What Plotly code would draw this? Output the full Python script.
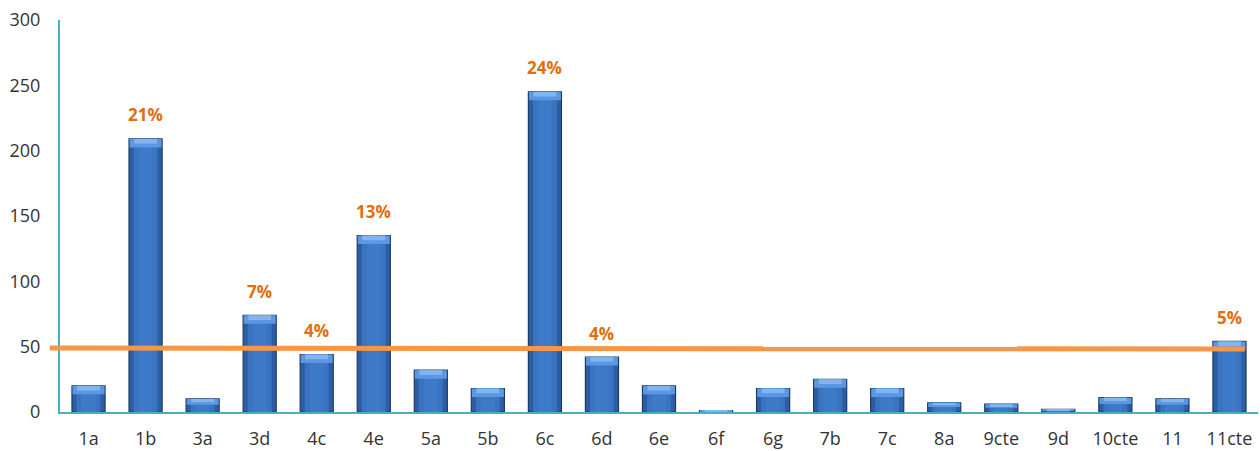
import plotly.graph_objects as go

# Count per category
categories = ["1a", "1b", "3a", "3d", "4c", "4e", "5a", "5b", "6c", "6d", "6e",
              "6f", "6g", "7b", "7c", "8a", "9cte", "9d", "10cte", "11", "11cte"]
values = [20, 209, 10, 74, 44, 135, 32, 18, 245, 42, 20,
          1, 18, 25, 18, 7, 6, 2, 11, 10, 54]

# Reference line level at its left and right ends
reference_line = [48.9, 48.2]

y_ticks = [0, 50, 100, 150, 200, 250, 300]

total = sum(values)
shares = [round(v / total * 100) for v in values]
x_pos = list(range(len(categories)))

AXIS_COLOR = "#4BACC6"
FONT = "Open Sans"

fig = go.Figure()

# Dark outer body of each bar
fig.add_trace(go.Bar(
    x=x_pos, y=values, width=0.58,
    marker=dict(color="#2D5DA2", line=dict(color="#1C3A66", width=1.2)),
    hoverinfo="skip", showlegend=False,
))
# Lighter core to suggest a rounded surface
fig.add_trace(go.Bar(
    x=x_pos, y=values, width=0.42,
    marker=dict(color="#3A73C0", line=dict(width=0)),
    hoverinfo="skip", showlegend=False,
))
fig.add_trace(go.Bar(
    x=x_pos, y=values, width=0.24,
    marker=dict(color="#3F7AC8", line=dict(width=0)),
    hoverinfo="skip", showlegend=False,
))
# Bevelled top cap
cap = [min(6.5, v * 0.45) for v in values]
fig.add_trace(go.Bar(
    x=x_pos, y=cap, base=[v - c for v, c in zip(values, cap)], width=0.56,
    marker=dict(color="#5B97E2", line=dict(width=0)),
    hoverinfo="skip", showlegend=False,
))
fig.add_trace(go.Bar(
    x=x_pos, y=[c * 0.55 for c in cap], base=[v - c * 0.55 for v, c in zip(values, cap)],
    width=0.40,
    marker=dict(color="#7FB6F0", line=dict(width=0)),
    hoverinfo="skip", showlegend=False,
))

# Share labels above the larger bars
for x, v, s in zip(x_pos, values, shares):
    if s >= 4:
        fig.add_annotation(
            x=x, y=v, text=f"{s}%", showarrow=False, yshift=24,
            font=dict(family=FONT, size=17, color="#E46C0A", weight="bold"),
        )

# Horizontal reference line across the chart
fig.add_shape(
    type="line", xref="paper", yref="y",
    x0=-0.0085, x1=0.989, y0=reference_line[0], y1=reference_line[1],
    line=dict(color="#F79646", width=5), layer="above",
)

fig.update_layout(
    width=1260, height=451,
    margin=dict(l=60, r=2, t=20, b=39),
    paper_bgcolor="white", plot_bgcolor="white",
    barmode="overlay",
    font=dict(family=FONT, size=18, color="#333333"),
    xaxis=dict(
        range=[-0.5, len(categories) - 0.5],
        tickmode="array", tickvals=x_pos, ticktext=categories,
        showline=True, linecolor=AXIS_COLOR, linewidth=2,
        ticks="outside", ticklen=9, tickcolor="rgba(0,0,0,0)",
        showgrid=False, zeroline=False, automargin=False,
    ),
    yaxis=dict(
        range=[0, 300], tickvals=y_ticks,
        showline=True, linecolor=AXIS_COLOR, linewidth=2,
        ticks="outside", ticklen=14, tickcolor="rgba(0,0,0,0)",
        showgrid=False, zeroline=False, automargin=False,
    ),
)

fig.write_html("out.html")
